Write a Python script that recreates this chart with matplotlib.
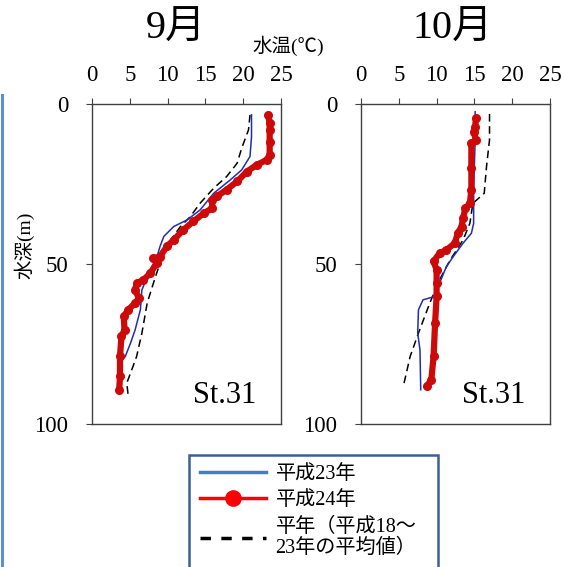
import matplotlib
matplotlib.use("Agg")
import matplotlib.pyplot as plt
from matplotlib.lines import Line2D
from matplotlib.patches import Rectangle

# ---------------- data ----------------
months = ["9月", "10月"]
station = "St.31"

# September
sep_h23_temp = [21.1, 21.1, 20.9, 19.8, 18.3, 16.1, 14.3, 12.6, 10.8, 9.5, 9.0, 8.6, 7.7, 6.6, 6.4, 5.7, 5.1, 4.4, 3.7, 3.7, 3.7]
sep_h23_depth = [3.4, 10.2, 16.4, 20.6, 23.7, 27.9, 33.1, 36.2, 38.3, 41.4, 44.5, 47.7, 51.8, 58.1, 64.3, 70.6, 74.7, 78.9, 80.9, 86.2, 88.8]

sep_h24_temp = [23.3, 23.5, 23.5, 23.5, 23.5, 23.1, 21.8, 20.5, 19.2, 17.8, 16.5, 15.9, 15.9, 14.8, 13.4, 12.1, 10.8, 9.9, 9.0, 8.1, 8.6, 7.7, 6.8, 5.9, 5.7, 6.2, 5.7, 4.8, 4.2, 4.3, 3.9, 3.7, 3.7, 3.6]
sep_h24_depth = [3.4, 6.0, 8.1, 12.0, 15.9, 17.5, 19.0, 21.1, 24.2, 26.8, 28.9, 30.0, 32.6, 34.1, 36.7, 39.3, 42.5, 44.5, 47.7, 48.2, 49.7, 52.9, 55.0, 56.0, 58.1, 60.7, 62.2, 64.3, 66.4, 70.6, 72.6, 78.9, 85.1, 89.3]

sep_avg_temp = [20.9, 20.7, 19.8, 19.2, 17.8, 16.1, 14.3, 13.0, 11.7, 10.4, 9.3, 8.4, 7.3, 6.6, 5.9, 5.1, 4.6, 4.8]
sep_avg_depth = [3.4, 8.1, 13.8, 18.5, 22.7, 26.3, 31.0, 35.2, 38.3, 42.5, 47.7, 53.9, 62.2, 71.6, 78.9, 84.1, 87.2, 91.4]

# October
oct_h23_temp = [15.1, 15.1, 14.9, 14.9, 14.6, 13.5, 12.2, 11.3, 10.4, 9.8, 8.2, 7.6, 7.5, 7.8, 7.9]
oct_h23_depth = [2.4, 11.2, 26.8, 37.3, 40.4, 43.5, 47.7, 50.8, 55.9, 60.1, 61.2, 64.3, 71.6, 76.8, 89.3]

oct_h24_temp = [15.2, 15.1, 14.9, 15.2, 14.6, 14.6, 14.6, 14.4, 13.8, 13.5, 13.3, 12.8, 12.4, 11.3, 10.4, 9.6, 10.0, 10.0, 10.0, 9.8, 9.6, 9.3, 8.7]
oct_h24_depth = [4.5, 7.1, 8.6, 11.2, 12.3, 20.0, 26.8, 31.0, 32.6, 35.7, 38.3, 40.4, 43.5, 45.6, 46.6, 49.2, 51.8, 56.0, 60.1, 68.5, 78.9, 86.2, 88.2]

oct_avg_temp = [17.0, 17.0, 16.6, 16.3, 15.3, 14.8, 14.4, 13.5, 11.8, 10.4, 9.1, 7.6, 6.5, 5.6]
oct_avg_depth = [3.1, 11.2, 19.6, 27.9, 30.0, 31.0, 37.3, 42.5, 48.7, 54.9, 62.2, 71.6, 78.9, 88.2]

x_ticks = [0, 5, 10, 15, 20, 25]
y_ticks = [0, 50, 100]
legend_labels = ["平成23年", "平成24年", "平年（平成18〜\n23年の平均値）"]
x_label = "水温(℃)"
y_label = "水深(m)"

# ---------------- styling ----------------
SERIF = ["Liberation Serif", "Noto Sans CJK JP"]
plt.rcParams["font.family"] = SERIF

W, H = 565, 567
fig = plt.figure(figsize=(W / 100, H / 100), dpi=100)

BLUE = "#1f2fb0"
RED = "#cc0a0a"
panel_px = [(92, 281), (361, 550)]
top_px, bot_px = 104, 424

panels = [
    (sep_h23_temp, sep_h23_depth, sep_h24_temp, sep_h24_depth, sep_avg_temp, sep_avg_depth),
    (oct_h23_temp, oct_h23_depth, oct_h24_temp, oct_h24_depth, oct_avg_temp, oct_avg_depth),
]

for i, (l, r) in enumerate(panel_px):
    ax = fig.add_axes([l / W, 1 - bot_px / H, (r - l) / W, (bot_px - top_px) / H])
    t23, d23, t24, d24, ta, da = panels[i]
    ax.plot(ta, da, color="black", lw=1.1, dashes=(5, 3), zorder=2)
    ax.plot(t23, d23, color=BLUE, lw=1.1, zorder=3)
    ax.plot(t24, d24, color=RED, lw=4.5, marker="o", ms=5.5, mec=RED, mfc=RED,
            solid_capstyle="round", solid_joinstyle="round", zorder=4)
    ax.set_xlim(0, 25)
    ax.set_ylim(100, 0)
    ax.xaxis.tick_top()
    ax.set_xticks(x_ticks)
    ax.set_yticks(y_ticks)
    ax.tick_params(axis="x", direction="out", length=4, width=0.8, pad=9, colors="#404040",
                   labelcolor="black", labelsize=16.5)
    ax.tick_params(axis="y", direction="out", length=4, width=0.8, pad=13, colors="#404040",
                   labelcolor="black", labelsize=16.5)
    for s in ax.spines.values():
        s.set_color("#404040")
        s.set_linewidth(1.0)
    ax.text(0.7, 0.09, station, transform=ax.transAxes, ha="center", va="center",
            fontsize=22)

# titles
fig.text(176 / W, 1 - 29 / H, months[0], ha="center", va="center", fontsize=29)
fig.text(453 / W, 1 - 29 / H, months[1], ha="center", va="center", fontsize=29)
fig.text(288 / W, 1 - 46 / H, x_label, ha="center", va="center", fontsize=14)
fig.text(24 / W, 1 - 245 / H, y_label, ha="center", va="center", fontsize=14, rotation=90)

# left decorative blue border
fig.add_artist(Line2D([2 / W, 2 / W], [1 - 95 / H, 0], color="#5b8ed6", lw=2.2))

# legend box
fig.add_artist(Rectangle((189 / W, -0.02), (438 - 189) / W, (567 - 455) / H + 0.02,
                         transform=fig.transFigure, fill=False, edgecolor="#3b5f9a", lw=1.8))

handles = [
    Line2D([], [], color="#4a7ebb", lw=2.5),
    Line2D([], [], color="#ff0000", lw=2.5, marker="o", ms=11),
    Line2D([], [], color="black", lw=2.5, dashes=(3, 3)),
]
leg = fig.legend(handles, legend_labels, loc="upper left",
                 bbox_to_anchor=(196 / W, 1 - 461 / H), frameon=False,
                 prop={"size": 14.5}, handlelength=3.3, handletextpad=0.45,
                 labelspacing=0.35, borderpad=0.2, borderaxespad=0)
for t in leg.get_texts():
    t.set_linespacing(1.15)

fig.savefig("out.png", dpi=100)
